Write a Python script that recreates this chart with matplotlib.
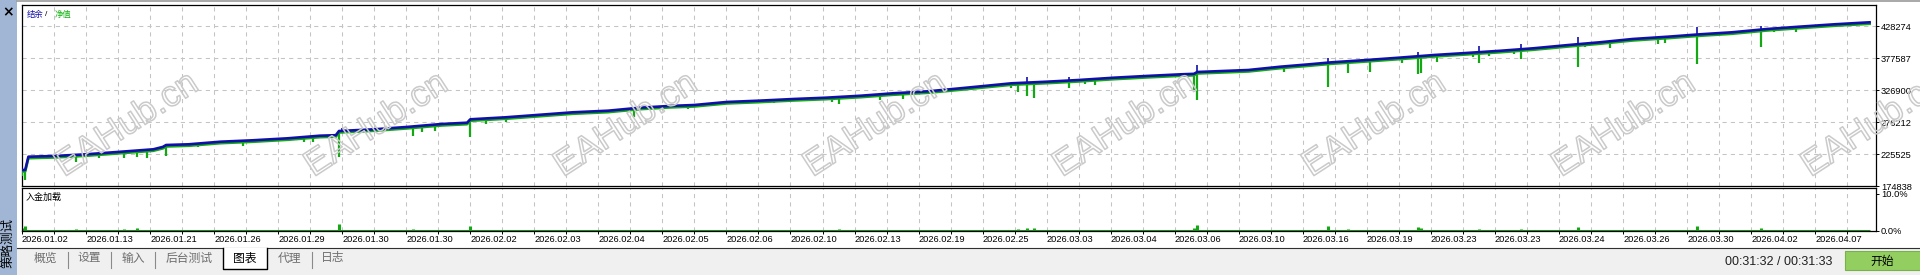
import matplotlib
matplotlib.use("Agg")
import numpy as np
import matplotlib.pyplot as plt
import matplotlib.patheffects as pe
import matplotlib.transforms as mtransforms
from matplotlib.patches import Rectangle

plt.rcParams['font.family'] = ['Liberation Sans', 'Noto Sans CJK SC', 'DejaVu Sans']
CJK = ['Noto Sans CJK SC', 'DejaVu Sans']

# balance knots (trade no., balance)
bal_t = [0, 1, 2, 10, 20, 31, 41, 44, 45, 52, 62, 72, 83, 93, 98, 99, 110, 120, 131, 139,
         140, 151, 162, 172, 183, 193, 202, 210, 220, 230, 241, 251, 262, 272, 283, 293,
         302, 309, 320, 330, 341, 351, 362, 366, 367, 383, 393, 402, 409, 420, 430, 441,
         451, 462, 472, 483, 493, 503, 514, 524, 534, 545, 555, 566, 577]
bal_v = [200200, 200200, 221250, 222360, 225050, 229170, 232970, 236800, 239780, 240890,
         245010, 247230, 250400, 254510, 255300, 261960, 264650, 268290, 273040, 275100,
         280490, 283660, 287780, 291580, 294120, 298870, 301560, 303150, 307900, 309960,
         312650, 314710, 317870, 321670, 324840, 329590, 334030, 337500, 340050, 342740,
         346380, 349080, 351770, 352500, 355410, 358580, 363810, 367610, 370780, 374420,
         378070, 382340, 385510, 389150, 392960, 398180, 402610, 407690, 411330, 415130,
         418300, 423530, 427170, 430970, 434140]

# equity drawdown spikes (trade no., lowest equity) and deposit load in %
dip_t = [0, 1, 17, 24, 32, 36, 39, 45, 55, 69, 88, 91, 99, 122, 125, 129, 140, 145, 151,
         191, 208, 235, 249, 253, 255, 264, 268, 275, 309, 311, 314, 316, 327, 332, 335,
         366, 367, 379, 394, 408, 414, 421, 431, 436, 437, 442, 453, 455, 458, 466, 468,
         470, 486, 488, 496, 511, 513, 523, 543, 547, 554]
dip_v = [190000, 184300, 213330, 219190, 219190, 221250, 219190, 222830, 236610, 238670,
         245010, 244050, 221250, 254040, 260850, 262440, 252930, 272570, 275740, 283660,
         296800, 306780, 311060, 308370, 304730, 316290, 311060, 312650, 329590, 324210,
         317870, 314710, 330550, 336880, 334830, 326900, 311060, 353350, 355890, 332130,
         354300, 355890, 370140, 351770, 353350, 371730, 378700, 370140, 380760, 384400,
         375990, 389150, 363810, 395480, 393890, 399280, 401820, 368090, 395010, 418300,
         419250]
load = [0.8, 1.4, 0.5, 0.4, 0.5, 0.8, 0.4, 0.4, 0.3, 0.3, 0.4, 0.4, 1.9, 0.5, 0.3, 0.3,
        1.3, 0.3, 0.3, 0.4, 0.3, 0.3, 0.3, 0.4, 0.5, 0.3, 0.4, 0.3, 0.3, 0.5, 0.7, 0.8,
        0.4, 0.3, 0.3, 0.9, 1.5, 0.3, 0.3, 1.3, 0.5, 0.3, 0.3, 1.1, 0.9, 0.4, 0.3, 0.5,
        0.3, 0.3, 0.5, 0.3, 1.1, 0.3, 0.3, 0.4, 0.3, 1.4, 0.8, 0.3, 0.3]

# short balance spikes
tick_t = [100, 314, 327, 367, 408, 414, 436, 455, 468, 486, 523, 543]
tick_v = [266230, 347020, 347020, 366500, 377110, 374420, 386620, 396600, 399770,
          410380, 427170, 428270]

y_ticks = [174838, 225525, 276212, 326900, 377587, 428274]
dates = ['2026.01.02', '2026.01.13', '2026.01.21', '2026.01.26', '2026.01.29', '2026.01.30',
         '2026.01.30', '2026.02.02', '2026.02.03', '2026.02.04', '2026.02.05', '2026.02.06',
         '2026.02.10', '2026.02.13', '2026.02.19', '2026.02.25', '2026.03.03', '2026.03.04',
         '2026.03.06', '2026.03.10', '2026.03.16', '2026.03.19', '2026.03.23', '2026.03.23',
         '2026.03.24', '2026.03.26', '2026.03.30', '2026.04.02', '2026.04.07']
tabs = ['概览', '设置', '输入', '后台测试', '图表', '代理', '日志']
tab_x = [45, 89, 133, 189, 245, 289, 333]

BLUE = '#1010a8'
GREEN = '#14a814'
GRIDC = '#c4c4c4'
W, H = 1920, 275


def fax(x0, y0, x1, y1):
    return [x0 / W, 1 - y1 / H, (x1 - x0) / W, (y1 - y0) / H]


fig = plt.figure(figsize=(19.2, 2.75), dpi=100)
fig.patch.set_facecolor('#f0f0f0')

# background panels
bg = fig.add_axes([0, 0, 1, 1])
bg.set_xlim(0, W)
bg.set_ylim(H, 0)
bg.axis('off')
bg.add_patch(Rectangle((17, 0), W - 17, 248, color='white', lw=0))
bg.add_patch(Rectangle((0, 0), 17, H, color='#a0b6d4', lw=0))
bg.plot([17, W], [0.5, 0.5], color='#9a9a9a', lw=1.2)
bg.plot([17, W], [248, 248], color='#303030', lw=0.8)

# main chart
ax = fig.add_axes(fax(22, 5, 1876, 186))
ax.set_xlim(0, 579)
ax.set_ylim(174838, 461543)
shift = mtransforms.ScaledTranslation(0, -1.5 / 100, fig.dpi_scale_trans)
bal_at_dip = np.interp(dip_t, bal_t, bal_v)
bal_at_tick = np.interp(tick_t, bal_t, bal_v)
ax.vlines(dip_t, dip_v, bal_at_dip, color=GREEN, lw=1.6, zorder=3)
ax.plot(bal_t, bal_v, color=GREEN, lw=1.9, transform=ax.transData + shift, zorder=3)
ax.vlines(tick_t, bal_at_tick, tick_v, color=BLUE, lw=1.2, zorder=4)
ax.plot(bal_t, bal_v, color=BLUE, lw=1.9, zorder=4)

ax.set_yticks(y_ticks)
ax.set_yticklabels([str(v) for v in y_ticks])
ax.yaxis.tick_right()
ax.tick_params(axis='y', length=2.5, width=0.7, pad=1, labelsize=6.7)
ax.set_xticks(np.arange(0, 571, 10))
ax.tick_params(axis='x', length=0, labelbottom=False)
ax.grid(True, color=GRIDC, lw=0.75, linestyle=(0, (4, 4)))
for s in ax.spines.values():
    s.set_linewidth(0.9)

fig.text(27 / W, 1 - 14 / H, '结余', fontsize=6, color=BLUE, family=CJK, va='center')
fig.text(45 / W, 1 - 14 / H, '/', fontsize=6, color='black', va='center')
fig.text(55 / W, 1 - 14 / H, '净值', fontsize=6, color='#10b010', family=CJK, va='center')

# deposit load panel
ax2 = fig.add_axes(fax(22, 188, 1876, 231))
ax2.set_xlim(0, 579)
ax2.set_ylim(0, 11.6)
ax2.hlines(0, 0, 577, color=GREEN, lw=2.2)
ax2.vlines(dip_t, 0, load, color=GREEN, lw=2.2)
ax2.set_xticks(np.arange(0, 561, 20))
ax2.set_xticks(np.arange(10, 571, 20), minor=True)
ax2.set_xticklabels(dates)
off = mtransforms.ScaledTranslation(2 / 100, 0, fig.dpi_scale_trans)
for lab in ax2.get_xticklabels():
    lab.set_horizontalalignment('left')
    lab.set_transform(lab.get_transform() + off)
ax2.tick_params(axis='x', which='both', length=2.2, width=0.7, pad=0.5, labelsize=6.7)
ax2.set_yticks([0, 10])
ax2.set_yticklabels(['0.0%', '10.0%'])
ax2.yaxis.tick_right()
ax2.tick_params(axis='y', length=2.5, width=0.7, pad=1, labelsize=6.7)
ax2.xaxis.grid(True, which='both', color=GRIDC, lw=0.75, linestyle=(0, (4, 4)))
for s in ax2.spines.values():
    s.set_linewidth(0.9)
fig.text(26 / W, 1 - 197 / H, '入金加载', fontsize=6.5, color='black', family=CJK, va='center')

# overlay: watermark, tabs, status
ov = fig.add_axes([0, 0, 1, 1], zorder=10)
ov.set_xlim(0, W)
ov.set_ylim(H, 0)
ov.axis('off')
ov.patch.set_alpha(0)
for k in range(8):
    ov.text(127 + 249.5 * k, 125, 'EAHub.cn', fontsize=26, color='none', rotation=33,
            ha='center', va='center', rotation_mode='anchor',
            path_effects=[pe.withStroke(linewidth=1.1, foreground='#cacaca')])

ov.text(8, 12, '×', fontsize=10, fontweight='bold', ha='center', va='center', family=['DejaVu Sans'])
ov.text(8, 243, '策略测试', fontsize=9, rotation=90, ha='center', va='center', family=CJK)

ov.add_patch(Rectangle((223, 247.5), 44, 21.5, facecolor='white', edgecolor='none'))
ov.plot([223, 223, 267, 267], [248, 269, 269, 248], color='black', lw=1)
for sx in [68, 111, 155, 312]:
    ov.plot([sx, sx], [252, 268], color='#8a8a8a', lw=0.8)
for name, tx in zip(tabs, tab_x):
    ov.text(tx, 258, name, fontsize=8.5, ha='center', va='center', family=CJK,
            color='black' if name == '图表' else '#6e6e6e')

ov.text(1725, 262, '00:31:32 / 00:31:33', fontsize=9, ha='left', va='center', color='#202020')
ov.add_patch(Rectangle((1845, 251), 76, 19, facecolor='#93cf60', edgecolor='#78b04c', lw=0.8))
ov.text(1882, 261, '开始', fontsize=8.5, ha='center', va='center', family=CJK, color='black')

fig.savefig('out.png', dpi=100)
